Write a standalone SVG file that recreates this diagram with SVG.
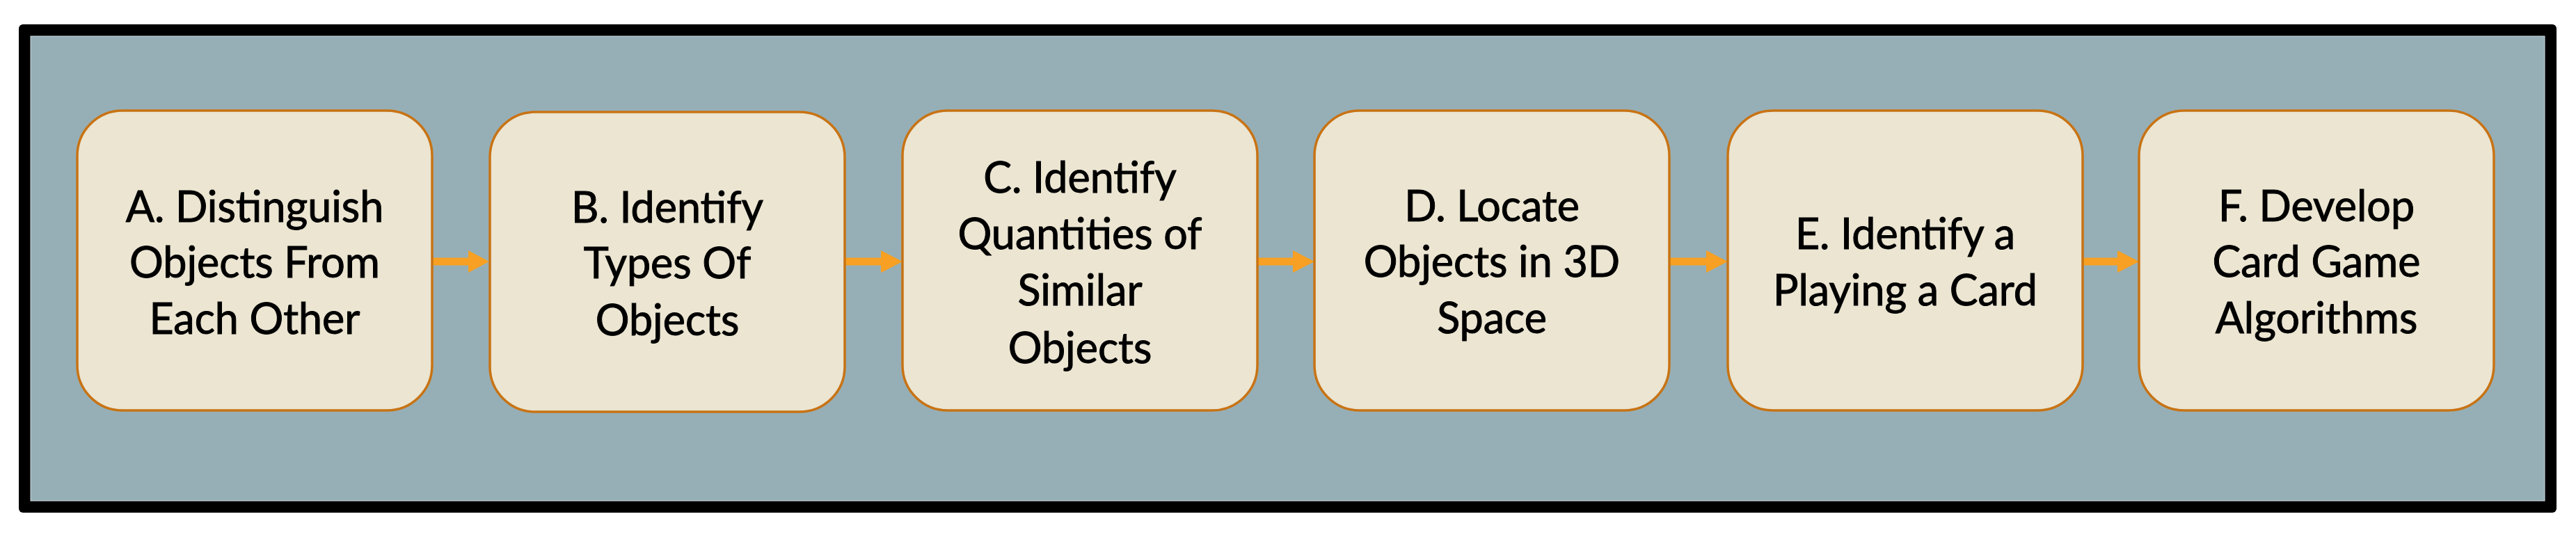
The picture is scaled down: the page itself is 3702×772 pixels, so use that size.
<svg xmlns="http://www.w3.org/2000/svg" width="3702" height="772" viewBox="0 0 3702 772">
<defs>
<style>
.box{fill:#ebe5d2;stroke:#c87314;stroke-width:3.5}
.lbl{font-family:Lato,"Open Sans","Liberation Sans",sans-serif;font-size:61px;fill:#000;stroke:#000;stroke-width:1;text-anchor:middle}
.arr{fill:#f7a023}
</style>
</defs>
<rect x="0" y="0" width="3702" height="772" fill="#ffffff"/>
<rect x="27" y="35" width="3647" height="702" rx="6" fill="#000000"/>
<rect x="44" y="52" width="3613" height="668" fill="#96afb6" stroke="#cfdcdf" stroke-width="1"/>
<g id="connectors">
<path class="arr" d="M621,370.5 H673 V360 L703,376 L673,392 V381.5 H621 Z"/>
<path class="arr" d="M1214,370.5 H1266 V360 L1297,376 L1266,392 V381.5 H1214 Z"/>
<path class="arr" d="M1807,370.5 H1858 V360 L1889,376 L1858,392 V381.5 H1807 Z"/>
<path class="arr" d="M2399,370.5 H2452 V360 L2483,376 L2452,392 V381.5 H2399 Z"/>
<path class="arr" d="M2993,370.5 H3043 V360 L3074,376 L3043,392 V381.5 H2993 Z"/>
</g>
<g id="nodeA">
<rect class="box" x="111" y="159" width="510" height="431" rx="65"/>
<text class="lbl" x="366" y="319">A. Distinguish</text>
<text class="lbl" x="366" y="399">Objects From</text>
<text class="lbl" x="366" y="480">Each Other</text>
</g>
<g id="nodeB">
<rect class="box" x="704" y="161" width="510" height="431" rx="65"/>
<text class="lbl" x="959" y="320">B. Identify</text>
<text class="lbl" x="959" y="400">Types Of</text>
<text class="lbl" x="959" y="482">Objects</text>
</g>
<g id="nodeC">
<rect class="box" x="1297" y="159" width="510" height="431" rx="65"/>
<text class="lbl" x="1552" y="277">C. Identify</text>
<text class="lbl" x="1552" y="358">Quantities of</text>
<text class="lbl" x="1552" y="439">Similar</text>
<text class="lbl" x="1552" y="522">Objects</text>
</g>
<g id="nodeD">
<rect class="box" x="1889" y="159" width="510" height="431" rx="65"/>
<text class="lbl" x="2144" y="318">D. Locate</text>
<text class="lbl" x="2144" y="398">Objects in 3D</text>
<text class="lbl" x="2144" y="479">Space</text>
</g>
<g id="nodeE">
<rect class="box" x="2483" y="159" width="510" height="431" rx="65"/>
<text class="lbl" x="2738" y="358">E. Identify a</text>
<text class="lbl" x="2738" y="439">Playing a Card</text>
</g>
<g id="nodeF">
<rect class="box" x="3074" y="159" width="510" height="431" rx="65"/>
<text class="lbl" x="3329" y="318">F. Develop</text>
<text class="lbl" x="3329" y="398">Card Game</text>
<text class="lbl" x="3329" y="479">Algorithms</text>
</g>
</svg>
